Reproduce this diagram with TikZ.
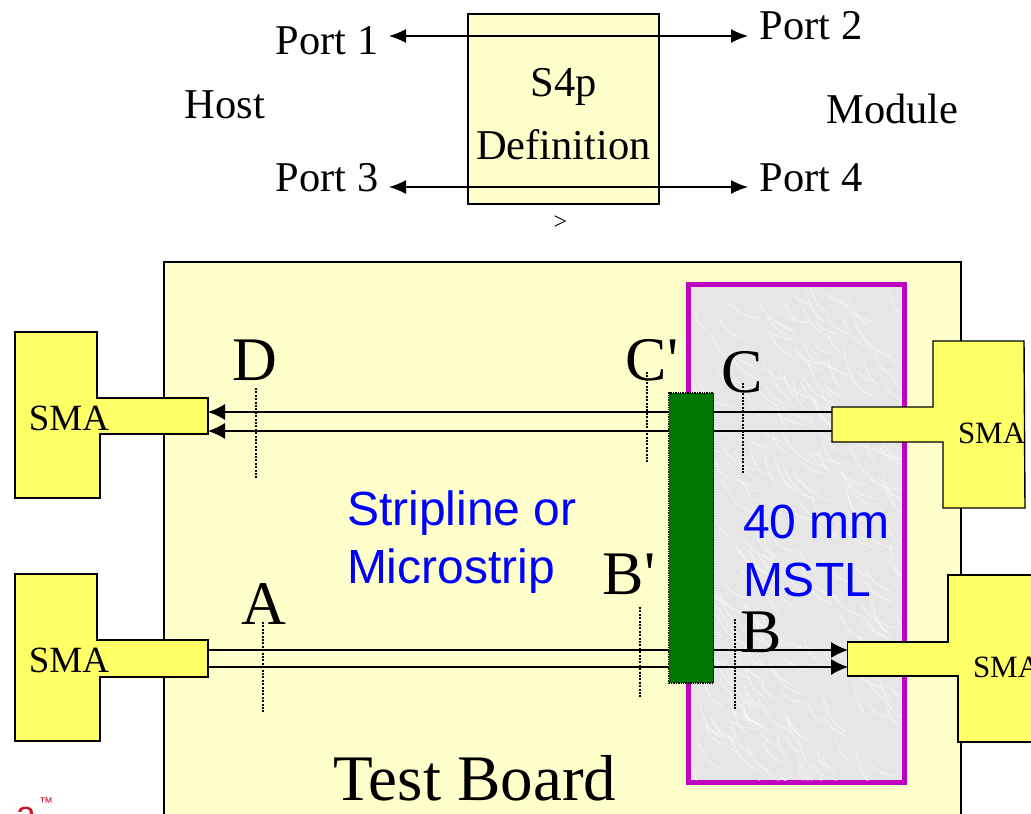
\documentclass[tikz,border=0pt]{standalone}
\usepackage{fontspec}
\setmainfont{Liberation Serif}
\newfontfamily\arialf{Liberation Sans}
\usetikzlibrary{arrows.meta}
\definecolor{boardy}{HTML}{FFFFCC}
\definecolor{smay}{HTML}{FFFF66}
\definecolor{dkgreen}{HTML}{007700}
\definecolor{magbar}{HTML}{BF00BF}
\definecolor{texgray}{HTML}{E6E6E6}
\newcommand{\fs}[1]{\fontsize{#1}{#1}\selectfont}
\tikzset{
  x=1pt,y=1pt,
  txt/.style={inner sep=0pt,outer sep=0pt,text=black},
  port/.style={txt,font=\fs{42.4}},
  big/.style={txt,font=\fs{62}},
  sma/.style={txt,font=\fs{37}},
  smb/.style={txt,font=\fs{31}},
  blue/.style={txt,anchor=base west,text={rgb,255:red,0;green,0;blue,255},font=\arialf\fs{48}},
  smabody/.style={draw=black,fill=smay,line width=1.4pt,line join=miter},
  sig/.style={draw=black,line width=1.3pt},
  tip/.style={{Latex[length=17pt,width=16pt]}-},
  both/.style={{Latex[length=17pt,width=14pt]}-{Latex[length=17pt,width=14pt]}},
  probe/.style={draw=black,line width=1.7pt,dash pattern=on 2pt off 1.4pt},
}
\begin{document}
\begin{tikzpicture}
\useasboundingbox (0,0) rectangle (1031,-814);
\clip (0,0) rectangle (1031,-814);
% top block
\node[draw=black,fill=boardy,line width=1.3pt,minimum width=191pt,minimum height=190pt,inner sep=0pt,outer sep=0pt,anchor=north west] (s4p) at (468,-14) {};
\node[txt,font=\fs{42.5}] (s4a) at (563.5,-87) {S4p};
\node[txt,font=\fs{42.5}] (s4b) at (563.5,-144.5) {Definition};
\node[port] (p1) at (327,-41) {Port 1};
\node[port] (p2) at (811,-26) {Port 2};
\node[port] (p3) at (327,-178) {Port 3};
\node[port] (p4) at (811,-178) {Port 4};
\node[txt,font=\fs{42.5}] (host) at (225,-105) {Host};
\node[txt,font=\fs{42.5}] (mod) at (892.5,-109) {Module};
\node[txt,font=\fs{24}] (gt) at (560.5,-223) {>};
\coordinate (t1a) at (389,-36); \coordinate (t1b) at (748,-36);
\coordinate (t2a) at (389,-187); \coordinate (t2b) at (748,-187);
\draw[sig,both] (t1a) -- (t1b);
\draw[sig,both] (t2a) -- (t2b);
% board
\node[draw=black,fill=boardy,line width=1.4pt,minimum width=797pt,minimum height=600pt,inner sep=0pt,outer sep=0pt,anchor=north west] (board) at (164,-262) {};
% MSTL area
\node[draw=magbar,fill=texgray,line width=5pt,minimum width=216pt,minimum height=498pt,inner sep=0pt,outer sep=0pt,anchor=north west] (mstl) at (688,-284.5) {};
\begin{scope}
\clip (691,-288) rectangle (901,-780);
\pgfmathsetseed{7}
\foreach \i in {1,...,260}{
  \pgfmathsetmacro{\xa}{690+rnd*212}
  \pgfmathsetmacro{\ya}{-286-rnd*496}
  \pgfmathsetmacro{\dx}{10+rnd*24}
  \pgfmathsetmacro{\dy}{8+rnd*26}
  \draw[white,opacity=0.5,line width=1pt,line cap=round] (\xa,\ya) .. controls (\xa+\dx*0.4,\ya-\dy*0.7) .. (\xa+\dx,\ya-\dy);
}
\end{scope}
% connection end points
\coordinate (dTL) at (208,-412); \coordinate (dTR) at (832,-412);
\coordinate (dBL) at (208,-431); \coordinate (dBR) at (832,-431);
\coordinate (aTL) at (208,-650); \coordinate (aTR) at (848,-650);
\coordinate (aBL) at (208,-667); \coordinate (aBR) at (848,-667);
\draw[sig,tip] (dTL) -- (dTR);
\draw[sig,tip] (dBL) -- (dBR);
\draw[sig,-{Latex[length=17pt,width=16pt]}] (aTL) -- (aTR);
\draw[sig,-{Latex[length=17pt,width=16pt]}] (aBL) -- (aBR);
% SMA connectors
\draw[smabody] (15,-332) -- (97,-332) -- (97,-398) -- (208,-398) -- (208,-434) -- (100,-434) -- (100,-498) -- (15,-498) -- cycle;
\draw[smabody] (15,-574) -- (97,-574) -- (97,-640) -- (208,-640) -- (208,-677) -- (100,-677) -- (100,-741) -- (15,-741) -- cycle;
\draw[smabody] (933,-341) -- (1024,-341) -- (1025,-508) -- (943,-508) -- (943,-442) -- (832,-442) -- (832,-407) -- (933,-407) -- cycle;
\draw[smabody] (948,-575) -- (1040,-575) -- (1040,-742) -- (958,-742) -- (958,-676) -- (847.5,-676) -- (847.5,-642) -- (948,-642) -- cycle;
\node[sma] (s1) at (69,-418) {SMA};
\node[sma] (s2) at (69,-660) {SMA};
\node[smb,anchor=west] (s3) at (958,-433) {SMA};
\node[smb,anchor=west] (s4) at (973,-667) {SMA};
% green bar
\node[draw=black,densely dotted,fill=dkgreen,line width=1.4pt,minimum width=45pt,minimum height=290pt,inner sep=0pt,outer sep=0pt,anchor=north west] (bar) at (668.5,-393) {};
% reference planes
\coordinate (pd1) at (256,-388); \coordinate (pd2) at (256,-478);
\coordinate (pc1) at (647,-372); \coordinate (pc2) at (647,-462);
\coordinate (pe1) at (743,-383); \coordinate (pe2) at (743,-474);
\coordinate (pa1) at (263,-622); \coordinate (pa2) at (263,-712);
\coordinate (pb1) at (640,-607); \coordinate (pb2) at (640,-698);
\coordinate (pf1) at (735,-619); \coordinate (pf2) at (735,-709);
\draw[probe] (pd1) -- (pd2);
\draw[probe] (pc1) -- (pc2);
\draw[probe] (pe1) -- (pe2);
\draw[probe] (pa1) -- (pa2);
\draw[probe] (pb1) -- (pb2);
\draw[probe] (pf1) -- (pf2);
% labels
\node[big] (lD) at (255,-360) {D};
\node[big] (lCp) at (652,-360) {C\textquotesingle};
\node[big] (lC) at (742,-372) {C};
\node[big] (lA) at (264,-604) {A};
\node[big] (lBp) at (629,-574) {B\textquotesingle};
\node[big] (lB) at (761,-632) {B};
\node[blue] (b1) at (347,-525) {Stripline or};
\node[blue] (b2) at (347,-583) {Microstrip};
\node[blue] (b3) at (743,-538) {40 mm};
\node[blue] (b4) at (743,-596) {MSTL};
\node[txt,font=\fs{65}] (tb) at (475,-778) {Test Board};
% logo fragment
\node[txt,anchor=base west,text={rgb,255:red,200;green,20;blue,40},font=\arialf\fs{36}] (logo) at (16,-826) {a};
\node[txt,anchor=base west,text={rgb,255:red,200;green,20;blue,40},font=\arialf\fs{14}] (tm) at (39,-807) {™};
\end{tikzpicture}
\end{document}
